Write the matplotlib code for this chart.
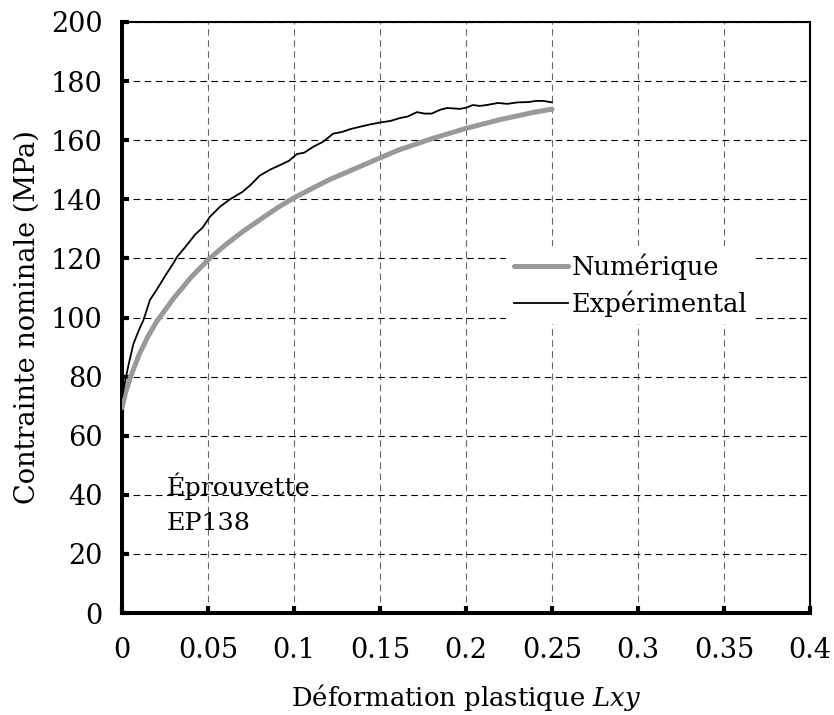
import matplotlib.pyplot as plt

plt.rcParams['font.family'] = ['DejaVu Serif']
plt.rcParams['mathtext.fontset'] = 'dejavuserif'

# Numerical curve
x_num = [0.0, 0.002, 0.005, 0.01, 0.015, 0.02, 0.03, 0.04, 0.05, 0.06, 0.07,
         0.08, 0.09, 0.1, 0.12, 0.14, 0.15, 0.16, 0.18, 0.2, 0.22, 0.24, 0.25]
y_num = [69.5, 74.5, 80.0, 87.5, 93.5, 98.5, 106.5, 113.5, 119.5, 124.5, 129.0,
         133.0, 137.0, 140.5, 146.5, 151.5, 154.0, 156.5, 160.5, 164.0, 167.0, 169.5, 170.5]

# Experimental curve
x_exp = [0.0, 0.002, 0.004, 0.0066, 0.01, 0.0124, 0.0163, 0.0203, 0.025, 0.03,
         0.032, 0.037, 0.0424, 0.047, 0.051, 0.057, 0.0628, 0.07, 0.075, 0.08,
         0.086, 0.0919, 0.097, 0.1017, 0.106, 0.111, 0.117, 0.1227, 0.128, 0.133,
         0.138, 0.144, 0.15, 0.156, 0.1616, 0.166, 0.1715, 0.176, 0.18, 0.185,
         0.189, 0.1965, 0.2, 0.204, 0.208, 0.212, 0.2186, 0.224, 0.23, 0.236,
         0.241, 0.245, 0.25]
y_exp = [73.0, 79.0, 84.5, 91.0, 96.0, 99.0, 106.0, 109.5, 114.0, 118.5,
         120.5, 124.0, 128.0, 130.5, 134.0, 137.5, 140.0, 142.5, 145.0, 148.0,
         150.0, 151.6, 153.0, 155.3, 155.8, 157.7, 159.5, 162.2, 162.8, 163.8,
         164.5, 165.3, 166.0, 166.5, 167.5, 168.0, 169.5, 169.0, 169.0, 170.3,
         170.9, 170.6, 171.0, 171.9, 171.6, 171.9, 172.6, 172.3, 172.8, 172.9,
         173.3, 173.3, 172.8]

x_ticks = [0, 0.05, 0.1, 0.15, 0.2, 0.25, 0.3, 0.35, 0.4]
x_tick_labels = ['0', '0.05', '0.1', '0.15', '0.2', '0.25', '0.3', '0.35', '0.4']
y_ticks = [0, 20, 40, 60, 80, 100, 120, 140, 160, 180, 200]

fig = plt.figure(figsize=(8.34, 7.15), dpi=100)
ax = fig.add_axes([122 / 834, 1 - 613 / 715, 688 / 834, 591 / 715])

ax.plot(x_num, y_num, color='#999999', lw=3.6, solid_capstyle='round',
        label='Numérique', zorder=3)
ax.plot(x_exp, y_exp, color='black', lw=1.3, label='Expérimental', zorder=4)

ax.set_xlim(0, 0.4)
ax.set_ylim(0, 200)
ax.set_xticks(x_ticks)
ax.set_xticklabels(x_tick_labels)
ax.set_yticks(y_ticks)

# grid: horizontal black dashes, vertical grey dashes
ax.yaxis.grid(True, color='black', lw=0.8, ls=(0, (6, 4)))
ax.xaxis.grid(True, color='#666666', lw=0.8, ls=(0, (6, 4)))
ax.set_axisbelow(True)

for s in ['left', 'bottom']:
    ax.spines[s].set_linewidth(2.9)
for s in ['top', 'right']:
    ax.spines[s].set_linewidth(1.5)

ax.tick_params(axis='both', direction='in', length=5, width=3, labelsize=19.5,
               top=False, right=False)
ax.tick_params(axis='y', pad=14)
ax.tick_params(axis='x', pad=17)

ax.set_ylabel('Contrainte nominale (MPa)', fontsize=19.5, labelpad=7)
ax.set_xlabel('Déformation plastique $Lxy$', fontsize=18.6, labelpad=13)

# specimen annotation
ax.text(0.026, 39.9, 'Éprouvette', fontsize=18.3, va='baseline', ha='left')
ax.text(0.026, 28.1, 'EP138', fontsize=18.3, va='baseline', ha='left')

leg = ax.legend(loc='center left', bbox_to_anchor=(0.54, 0.555), fontsize=18.5,
                frameon=True, fancybox=False, edgecolor='none', facecolor='white',
                framealpha=1, handlelength=2.1, handletextpad=0.15,
                borderpad=0.3, labelspacing=0.4)

plt.savefig('out.png', dpi=100)
